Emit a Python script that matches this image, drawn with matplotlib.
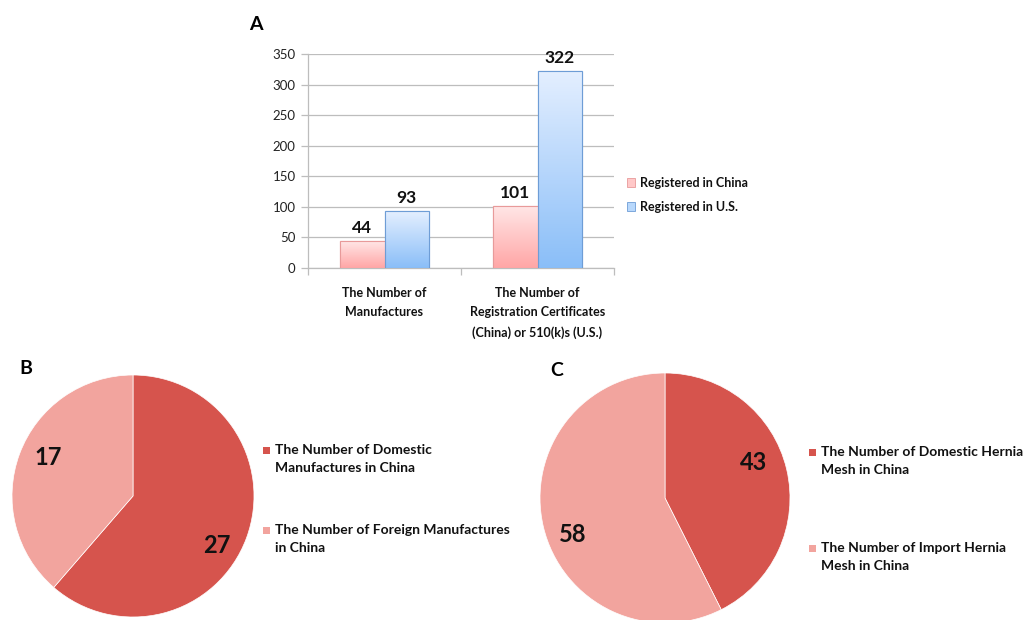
import numpy as np
import matplotlib
matplotlib.use("Agg")
import matplotlib.pyplot as plt
from matplotlib.colors import LinearSegmentedColormap
from matplotlib.patches import Patch, Rectangle

plt.rcParams['font.family'] = ['Lato', 'DejaVu Sans']

# ---------------- data ----------------
bar_categories = ["The Number of\nManufactures",
                  "The Number of\nRegistration Certificates\n(China) or 510(k)s (U.S.)"]
bar_series = ["Registered in China", "Registered in U.S."]
china_values = [44, 101]
us_values = [93, 322]
y_ticks = [0, 50, 100, 150, 200, 250, 300, 350]

pie_b_labels = ["The Number of Domestic\nManufactures in China",
                "The Number of Foreign Manufactures\nin China"]
pie_b_values = [27, 17]
pie_c_labels = ["The Number of Domestic Hernia\nMesh in China",
                "The Number of Import Hernia\nMesh in China"]
pie_c_values = [43, 58]

# ---------------- style ----------------
W, H = 1027, 620
DARK = "#D6544D"
LIGHT = "#F2A49E"
pink_cmap = LinearSegmentedColormap.from_list("pk", ["#FFA6A6", "#FFE6E6"])
blue_cmap = LinearSegmentedColormap.from_list("bl", ["#8ABEF8", "#E4EFFF"])
pink_edge = "#E89A9A"
blue_edge = "#6E9DD6"
GRID = "#BDBDBD"

fig = plt.figure(figsize=(W / 100, H / 100), dpi=100)
fig.patch.set_facecolor("white")


def fx(px):
    return px / W


def fy(py):
    return 1 - py / H


# ---------------- panel A ----------------
axA = fig.add_axes([fx(308), fy(268), fx(614) - fx(308), fy(54) - fy(268)])
x = np.arange(len(bar_categories)) + 0.5
bw = 0.29
bars_c = axA.bar(x - bw / 2, china_values, bw, color="#FFC8C8", edgecolor=pink_edge,
                 linewidth=0.8, zorder=3)
bars_u = axA.bar(x + bw / 2, us_values, bw, color="#B8D8FC", edgecolor=blue_edge,
                 linewidth=0.8, zorder=3)

grad = np.linspace(0, 1, 256).reshape(-1, 1)
for bars, cmap in ((bars_c, pink_cmap), (bars_u, blue_cmap)):
    for r in bars:
        bx, by, bwid, bh = r.get_x(), r.get_y(), r.get_width(), r.get_height()
        im = axA.imshow(grad, extent=[bx, bx + bwid, by, by + bh], aspect="auto",
                        cmap=cmap, origin="lower", zorder=3.5, interpolation="bilinear")
        im.set_clip_path(r)
        axA.bar(bx + bwid / 2, bh, bwid, bottom=by, fill=False,
                edgecolor=r.get_edgecolor(), linewidth=0.8, zorder=4)
    for r in bars:
        axA.text(r.get_x() + r.get_width() / 2, r.get_height() + 8, f"{int(r.get_height())}",
                 ha="center", va="bottom", fontsize=12.5, fontweight="bold", color="#111111",
                 zorder=5)

axA.set_xlim(0, len(bar_categories))
axA.set_ylim(0, 350)
axA.set_yticks(y_ticks)
axA.set_yticklabels([str(t) for t in y_ticks], fontsize=9.5, color="#222222")
axA.yaxis.grid(True, color=GRID, linewidth=0.9, zorder=0)
axA.set_axisbelow(True)
axA.set_xticks(x)
axA.set_xticklabels(bar_categories, fontsize=9, fontweight="bold", color="#111111",
                    linespacing=1.75, va="top")
axA.set_xticks(np.arange(len(bar_categories) + 1), minor=True)
axA.tick_params(axis="x", which="major", length=0, pad=13.5)
axA.tick_params(axis="x", which="minor", length=5, color=GRID, width=0.9)
axA.tick_params(axis="y", length=5, color=GRID, width=0.9, pad=4)
for s in ("top", "right"):
    axA.spines[s].set_visible(False)
for s in ("left", "bottom"):
    axA.spines[s].set_color(GRID)
    axA.spines[s].set_linewidth(0.9)

legA = fig.legend(handles=[Patch(facecolor="#FFC8C8", edgecolor=pink_edge, linewidth=0.6),
                           Patch(facecolor="#B8D8FC", edgecolor=blue_edge, linewidth=0.6)],
                  labels=bar_series, loc="center left",
                  bbox_to_anchor=(fx(627), fy(195)), frameon=False, fontsize=9,
                  handlelength=0.65, handleheight=0.65, handletextpad=0.35, labelspacing=0.95,
                  borderpad=0, borderaxespad=0)
for t in legA.get_texts():
    t.set_fontweight("bold")
    t.set_color("#111111")

fig.text(fx(256), fy(25), "A", fontsize=14, fontweight="bold", ha="center", va="center")


# ---------------- pies ----------------
def draw_pie(cx, cy, r, values, labels, label_xy, leg_x, leg_centers, letter, lx, ly):
    ax = fig.add_axes([fx(cx - r), fy(cy + r), fx(2 * r), fy(cy - r) - fy(cy + r)])
    total = sum(values)
    wedges, _, autot = ax.pie(values, colors=[DARK, LIGHT], startangle=90, counterclock=False,
                              radius=1, autopct=lambda p: f"{round(p * total / 100)}",
                              pctdistance=0.8,
                              wedgeprops=dict(edgecolor="white", linewidth=0.5))
    for t, pos in zip(autot, label_xy):
        t.set_position(pos)
        t.set_fontsize(17)
        t.set_fontweight("bold")
        t.set_color("#111111")
    ax.set_xlim(-1, 1)
    ax.set_ylim(-1, 1)
    ax.set_aspect("equal")
    ax.axis("off")
    for w in wedges:
        w.set_clip_on(False)
    # legend (marker aligned to first line of each label)
    for lab, col, yc in zip(labels, [DARK, LIGHT], leg_centers):
        sq = 7
        fig.patches.append(Rectangle((fx(leg_x), fy(yc - 9.5 + sq / 2)), fx(sq), sq / H,
                                     transform=fig.transFigure, facecolor=col,
                                     edgecolor="none"))
        fig.text(fx(leg_x + 12), fy(yc), lab, fontsize=10, fontweight="bold",
                 color="#111111", ha="left", va="center", linespacing=1.6)
    fig.text(fx(lx), fy(ly), letter, fontsize=14, fontweight="bold", ha="center", va="center")


draw_pie(133, 496, 121, pie_b_values, pie_b_labels,
         [(0.694, -0.413), (-0.702, 0.322)], 263, [459.5, 539.5], "B", 26, 369)
draw_pie(665, 498, 125, pie_c_values, pie_c_labels,
         [(0.712, 0.288), (-0.736, -0.288)], 809, [461.5, 557.5], "C", 557, 370)

fig.savefig("out.png", dpi=100, facecolor="white")
